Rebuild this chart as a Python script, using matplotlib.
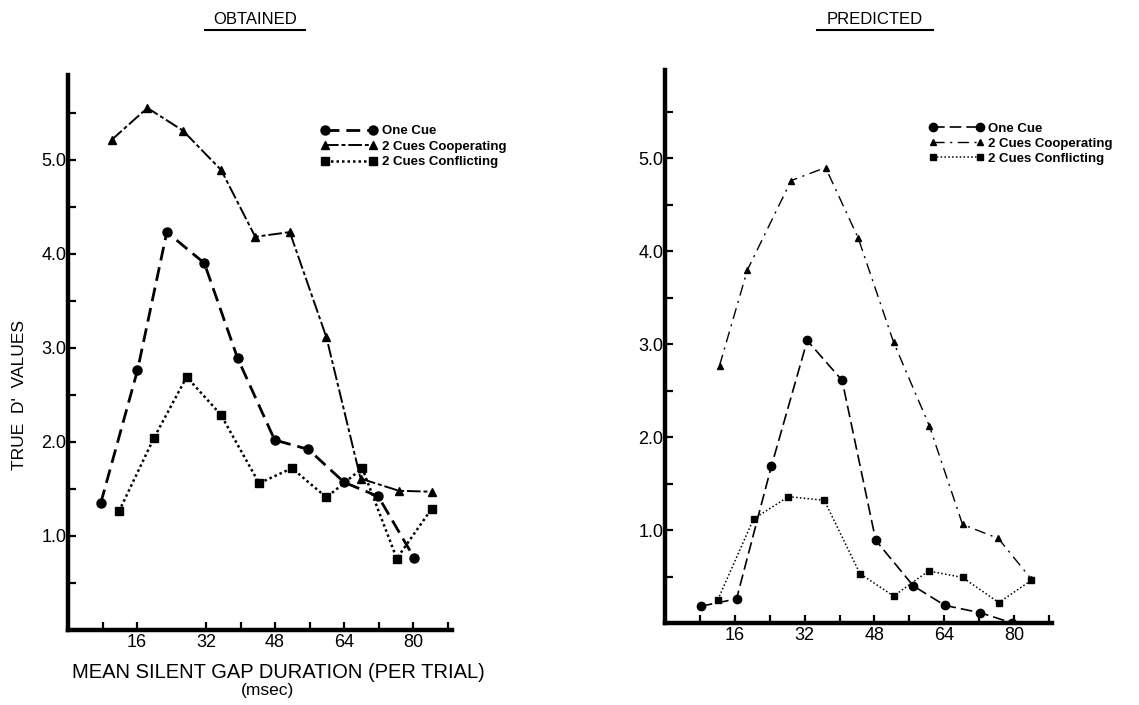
import matplotlib
matplotlib.use('Agg')
import numpy as np
import matplotlib.pyplot as plt
from matplotlib.lines import Line2D

plt.rcParams['font.family'] = ['Liberation Sans', 'DejaVu Sans']

# Data - obtained (left panel)
x_one_obt = [7.6, 16.1, 22.9, 31.6, 39.3, 47.9, 55.7, 64.0, 71.9, 80.2]
one_obt = [1.35, 2.76, 4.23, 3.90, 2.89, 2.02, 1.92, 1.57, 1.42, 0.77]
x_coop_obt = [10.1, 18.4, 26.6, 35.5, 43.4, 51.4, 59.9, 67.8, 76.7, 84.3]
coop_obt = [5.21, 5.55, 5.31, 4.89, 4.18, 4.23, 3.11, 1.61, 1.48, 1.47]
x_conf_obt = [11.8, 19.9, 27.5, 35.4, 44.3, 51.9, 59.9, 68.2, 76.2, 84.3]
conf_obt = [1.26, 2.04, 2.69, 2.29, 1.56, 1.72, 1.41, 1.72, 0.76, 1.29]

# Data - predicted (right panel)
x_one_pred = [8.2, 16.4, 24.4, 32.6, 40.6, 48.3, 56.9, 64.1, 72.3, 79.6]
one_pred = [0.18, 0.26, 1.69, 3.04, 2.61, 0.89, 0.40, 0.19, 0.11, 0.0]
x_coop_pred = [12.5, 18.9, 28.9, 36.8, 44.3, 52.4, 60.6, 68.2, 76.4, 84.0]
coop_pred = [2.77, 3.80, 4.76, 4.90, 4.14, 3.02, 2.12, 1.06, 0.91, 0.47]
x_conf_pred = [12.1, 20.3, 28.3, 36.5, 44.7, 52.4, 60.4, 68.2, 76.5, 84.0]
conf_pred = [0.25, 1.12, 1.36, 1.32, 0.53, 0.29, 0.56, 0.49, 0.22, 0.46]

labels = ['One Cue', '2 Cues Cooperating', '2 Cues Conflicting']
x_ticks_obt = [8, 16, 32, 40, 48, 56, 64, 72, 80, 88]
x_ticks_pred = [8, 16, 24, 32, 40, 48, 56, 64, 72, 80, 88]
x_labeled = [16, 32, 48, 64, 80]
y_ticks = np.arange(0.5, 5.51, 0.5)

fig = plt.figure(figsize=(11.39, 7.05), dpi=100)
ax1 = fig.add_axes([68 / 1139, 75 / 705, 384 / 1139, 555 / 705])
ax2 = fig.add_axes([665 / 1139, 82 / 705, 387 / 1139, 553 / 705])


def style_axes(ax, xticks, ytop, xmax):
    for side in ['top', 'right']:
        ax.spines[side].set_visible(False)
    for side in ['left', 'bottom']:
        ax.spines[side].set_linewidth(3.2)
    ax.set_xlim(0, xmax)
    ax.set_ylim(0, ytop)
    ax.set_xticks(xticks)
    ax.set_xticklabels([str(t) if t in x_labeled else '' for t in xticks])
    ax.set_yticks(y_ticks)
    ax.set_yticklabels(['%.1f' % v if v == int(v) else '' for v in y_ticks])
    ax.tick_params(direction='in', length=6, width=1.6, labelsize=13)
    ax.tick_params(axis='y', pad=1)
    ax.tick_params(axis='x', pad=3)


# Left panel: obtained
ax1.plot(x_one_obt, one_obt, color='black', linestyle=(0, (5, 2.5)), linewidth=2.0,
         marker='o', markersize=6.5, label=labels[0])
ax1.plot(x_coop_obt, coop_obt, color='black', linestyle=(0, (7, 1.5, 2, 1.5)), linewidth=1.4,
         marker='^', markersize=6, label=labels[1])
ax1.plot(x_conf_obt, conf_obt, color='black', linestyle=(0, (1, 1.2)), linewidth=1.8,
         marker='s', markersize=5.5, label=labels[2])
style_axes(ax1, x_ticks_obt, 5.9, 89)
ax1.legend(loc='upper left', bbox_to_anchor=(0.66, 0.91), frameon=False, numpoints=2,
           handlelength=4.2, handletextpad=0.4, labelspacing=0.25,
           borderpad=0, borderaxespad=0, prop={'weight': 'bold', 'size': 9.5})

# Right panel: predicted
ax2.plot(x_one_pred, one_pred, color='black', linestyle=(0, (7, 3)), linewidth=1.2,
         marker='o', markersize=6, label=labels[0])
ax2.plot(x_coop_pred, coop_pred, color='black', linestyle=(0, (8, 4, 1.5, 4)), linewidth=1.0,
         marker='^', markersize=4.5, label=labels[1])
ax2.plot(x_conf_pred, conf_pred, color='black', linestyle=(0, (1, 1.5)), linewidth=1.1,
         marker='s', markersize=5, label=labels[2])
style_axes(ax2, x_ticks_pred, 5.95, 88.7)
ax2.legend(loc='upper left', bbox_to_anchor=(0.682, 0.905), frameon=False, numpoints=2,
           handlelength=4.2, handletextpad=0.3, labelspacing=0.2,
           borderpad=0, borderaxespad=0, prop={'weight': 'bold', 'size': 9.5})

# Titles with underline
fig.text(255 / 1139, 1 - 20 / 705, 'OBTAINED', ha='center', va='center', fontsize=12)
fig.text(875 / 1139, 1 - 20 / 705, 'PREDICTED', ha='center', va='center', fontsize=12)
fig.add_artist(Line2D([205 / 1139, 305 / 1139], [1 - 30 / 705, 1 - 30 / 705], color='black', linewidth=1.5))
fig.add_artist(Line2D([817 / 1139, 933 / 1139], [1 - 30 / 705, 1 - 30 / 705], color='black', linewidth=1.5))

# Axis labels
fig.text(20 / 1139, 1 - 395 / 705, 'TRUE  D\'  VALUES', rotation=90, ha='center', va='center', fontsize=12.5)
fig.text(278 / 1139, 1 - 672 / 705, 'MEAN SILENT GAP DURATION (PER TRIAL)', ha='center', va='center', fontsize=14.5)
fig.text(268 / 1139, 1 - 691 / 705, '(msec)', ha='center', va='center', fontsize=12.5)

fig.savefig('out.png', dpi=100)
